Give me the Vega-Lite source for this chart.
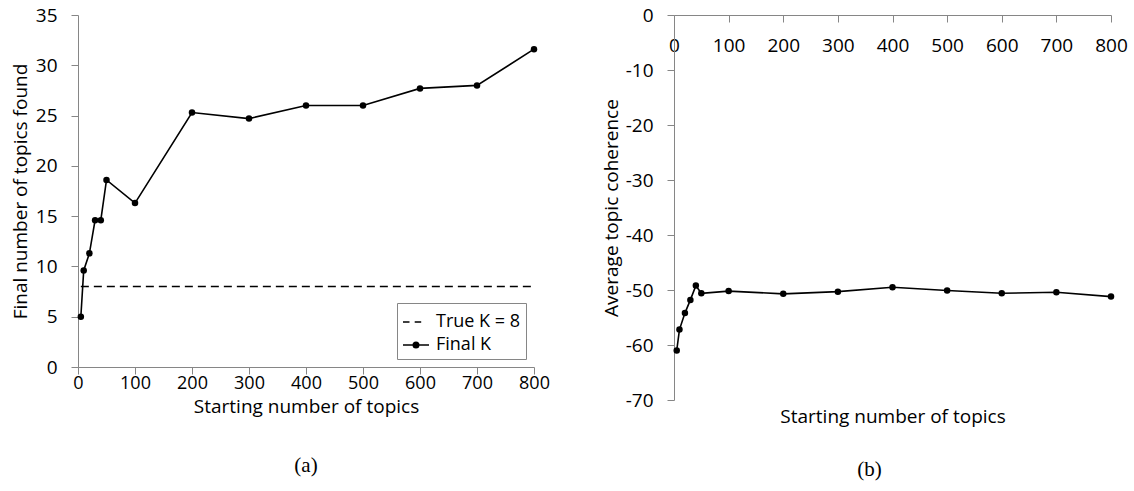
{
  "$schema": "https://vega.github.io/schema/vega-lite/v6.json",
  "background": "white",
  "padding": {"left": 11, "top": 6, "right": 5, "bottom": 5},
  "spacing": 52,
  "config": {
    "view": {"stroke": null},
    "axis": {
      "grid": false,
      "domainColor": "#868686",
      "tickColor": "#868686",
      "tickSize": 7,
      "labelFont": "Open Sans",
      "labelFontSize": 19,
      "labelColor": "black",
      "labelFlush": false,
      "titleFont": "Open Sans",
      "titleFontSize": 19,
      "titleFontWeight": "normal",
      "titleColor": "black"
    },
    "title": {"font": "Liberation Serif", "fontSize": 21, "fontWeight": "normal", "color": "black"}
  },
  "datasets": {
    "a": [
      {"start": 5, "k": 8, "series": "True K = 8"},
      {"start": 10, "k": 8, "series": "True K = 8"},
      {"start": 20, "k": 8, "series": "True K = 8"},
      {"start": 30, "k": 8, "series": "True K = 8"},
      {"start": 40, "k": 8, "series": "True K = 8"},
      {"start": 50, "k": 8, "series": "True K = 8"},
      {"start": 100, "k": 8, "series": "True K = 8"},
      {"start": 200, "k": 8, "series": "True K = 8"},
      {"start": 300, "k": 8, "series": "True K = 8"},
      {"start": 400, "k": 8, "series": "True K = 8"},
      {"start": 500, "k": 8, "series": "True K = 8"},
      {"start": 600, "k": 8, "series": "True K = 8"},
      {"start": 700, "k": 8, "series": "True K = 8"},
      {"start": 800, "k": 8, "series": "True K = 8"},
      {"start": 5, "k": 5, "series": "Final K"},
      {"start": 10, "k": 9.6, "series": "Final K"},
      {"start": 20, "k": 11.3, "series": "Final K"},
      {"start": 30, "k": 14.6, "series": "Final K"},
      {"start": 40, "k": 14.6, "series": "Final K"},
      {"start": 50, "k": 18.6, "series": "Final K"},
      {"start": 100, "k": 16.3, "series": "Final K"},
      {"start": 200, "k": 25.3, "series": "Final K"},
      {"start": 300, "k": 24.7, "series": "Final K"},
      {"start": 400, "k": 26, "series": "Final K"},
      {"start": 500, "k": 26, "series": "Final K"},
      {"start": 600, "k": 27.7, "series": "Final K"},
      {"start": 700, "k": 28, "series": "Final K"},
      {"start": 800, "k": 31.6, "series": "Final K"}
    ],
    "b": [
      {"start": 5, "coherence": -61},
      {"start": 10, "coherence": -57.2},
      {"start": 20, "coherence": -54.2},
      {"start": 30, "coherence": -51.8},
      {"start": 40, "coherence": -49.2},
      {"start": 50, "coherence": -50.6},
      {"start": 100, "coherence": -50.2},
      {"start": 200, "coherence": -50.7},
      {"start": 300, "coherence": -50.3},
      {"start": 400, "coherence": -49.5},
      {"start": 500, "coherence": -50.1},
      {"start": 600, "coherence": -50.6},
      {"start": 700, "coherence": -50.4},
      {"start": 800, "coherence": -51.2}
    ]
  },
  "hconcat": [
    {
      "width": 456,
      "height": 352,
      "title": {"text": "(a)", "orient": "bottom", "offset": 39},
      "data": {"name": "a"},
      "encoding": {
        "x": {"field": "start", "type": "quantitative",
          "scale": {"domain": [0, 800], "nice": false, "zero": false},
          "axis": {"values": [0, 100, 200, 300, 400, 500, 600, 700, 800], "labelFontSize": 18, "labelPadding": 0, "title": "Starting number of topics", "titleY": 39, "titleBaseline": "middle"}},
        "y": {"field": "k", "type": "quantitative",
          "scale": {"domain": [0, 35], "nice": false},
          "axis": {"values": [0, 5, 10, 15, 20, 25, 30, 35], "labelPadding": 14, "title": "Final number of topics found", "titlePadding": 5}}
      },
      "layer": [
        {
          "transform": [{"filter": "datum.series === 'True K = 8'"}],
          "mark": {"type": "line", "color": "black", "strokeWidth": 1.6, "strokeDash": [8, 5]}
        },
        {
          "transform": [{"filter": "datum.series === 'Final K'"}],
          "mark": {"type": "line", "color": "black", "strokeWidth": 1.6}
        },
        {
          "transform": [{"filter": "datum.series === 'Final K'"}],
          "mark": {"type": "point", "filled": true, "color": "black", "opacity": 1, "size": 42}
        },
        {
          "mark": {"type": "point", "filled": false, "color": "black", "opacity": 0, "strokeWidth": 1.6},
          "encoding": {
            "shape": {"field": "series", "type": "nominal",
              "scale": {"domain": ["True K = 8", "Final K"],
                "range": ["M-1,0L-0.5,0M-0.1,0L0.4,0", "M-1,0L1,0M-0.208,0A0.208,0.208 0 1,1 0.208,0A0.208,0.208 0 1,1 -0.208,0M-0.104,0A0.104,0.104 0 1,1 0.104,0A0.104,0.104 0 1,1 -0.104,0M-0.024,0A0.024,0.024 0 1,1 0.024,0A0.024,0.024 0 1,1 -0.024,0"]},
              "legend": {
                "title": null,
                "orient": "none",
                "legendX": 319,
                "legendY": 288,
                "strokeColor": "#868686",
                "padding": 5,
                "fillColor": "white",
                "labelFont": "Open Sans",
                "labelFontSize": 18,
                "labelColor": "black",
                "labelOffset": 6,
                "rowPadding": 0,
                "symbolSize": 676,
                "symbolStrokeColor": "black",
                "symbolStrokeWidth": 1.6,
                "encode": {
                  "symbols": {"update": {
                    "opacity": {"value": 1},
                    "stroke": {"value": "black"},
                    "strokeWidth": {"value": 1.6},
                    "size": {"value": 676}
                  }}
                }
              }}
          }
        }
      ]
    },
    {
      "width": 437,
      "height": 385,
      "title": {"text": "(b)", "orient": "bottom", "offset": 33, "dx": -23},
      "data": {"name": "b"},
      "encoding": {
        "x": {"field": "start", "type": "quantitative",
          "scale": {"domain": [0, 800], "nice": false, "zero": false},
          "axis": {"orient": "bottom", "offset": -385, "values": [0, 100, 200, 300, 400, 500, 600, 700, 800], "labelPadding": 14, "title": "Starting number of topics", "titleY": 401, "titleBaseline": "middle"}},
        "y": {"field": "coherence", "type": "quantitative",
          "scale": {"domain": [-70, 0], "nice": false, "zero": false},
          "axis": {"values": [0, -10, -20, -30, -40, -50, -60, -70], "labelExpr": "'' + datum.value", "labelPadding": 14, "title": "Average topic coherence", "titlePadding": 4}}
      },
      "layer": [
        {"mark": {"type": "line", "color": "black", "strokeWidth": 1.6}},
        {"mark": {"type": "point", "filled": true, "color": "black", "opacity": 1, "size": 42}}
      ]
    }
  ]
}
